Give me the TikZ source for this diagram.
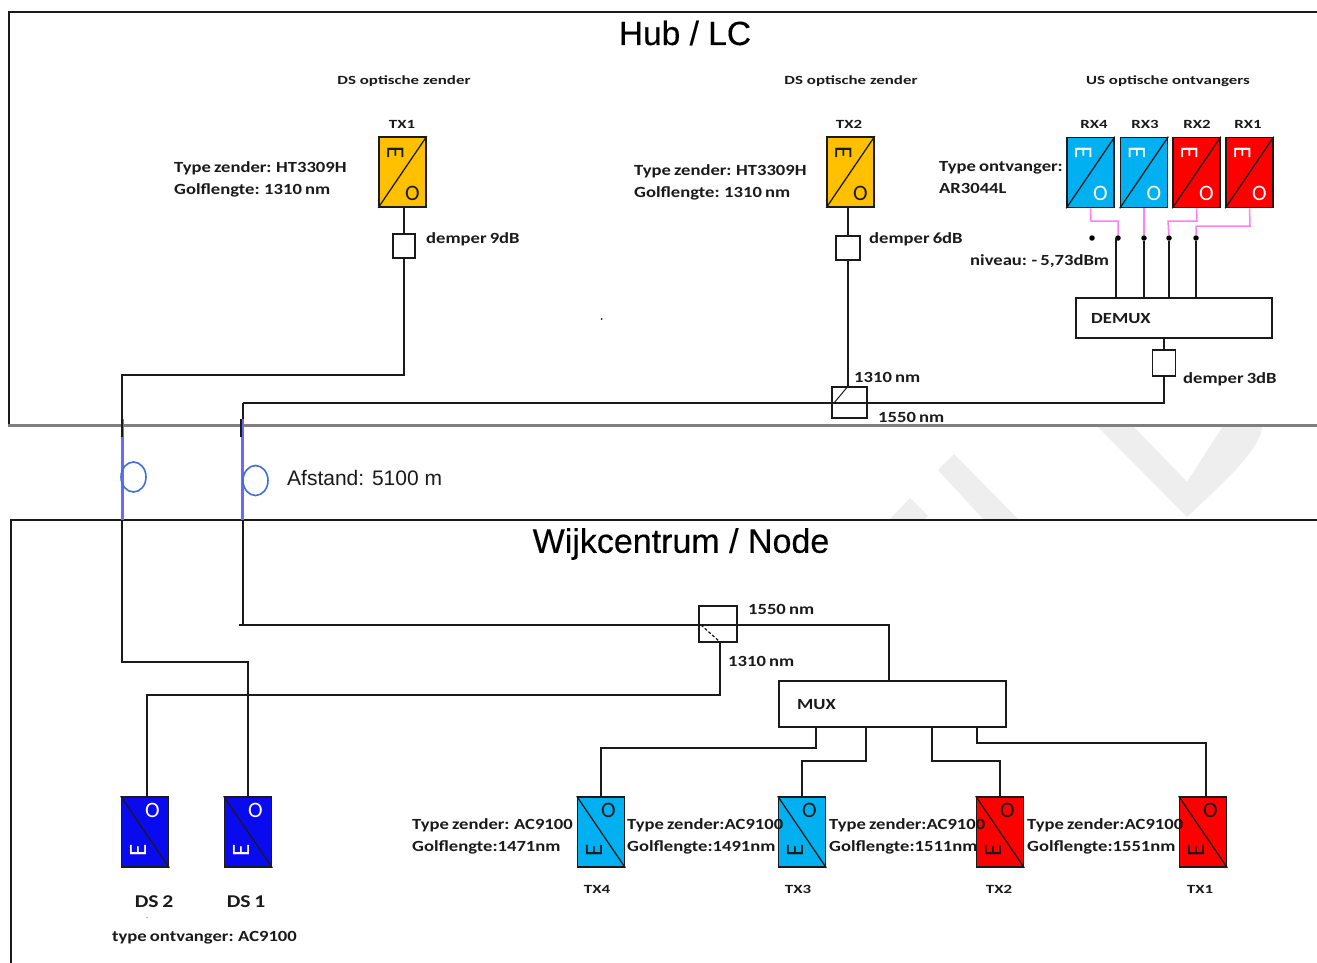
\documentclass[tikz,border=0pt]{standalone}
\usepackage{fontspec}
\setmainfont{Carlito}
\newfontfamily\lblfont[FakeStretch=1.2,WordSpace=0.75]{Carlito Bold}
\newfontfamily\capfont[FakeStretch=1.35]{Carlito Bold}
\newfontfamily\ttlfont{Liberation Sans}
\newfontfamily\ttlboldfont[FakeBold=0.35]{Liberation Sans}
\definecolor{amberc}{HTML}{FFC000}
\definecolor{skyc}{HTML}{00B0F0}
\definecolor{redc}{HTML}{FF0000}
\definecolor{navyc}{HTML}{0A0AEE}
\definecolor{pinkc}{HTML}{FF80F0}
\definecolor{fibre}{HTML}{6A6AF5}
\definecolor{loopc}{HTML}{3F6FD8}
\definecolor{wmark}{HTML}{EEEEEE}
\definecolor{inkc}{HTML}{1A1A1A}
\usetikzlibrary{shapes.geometric}
\tikzset{
  wire/.style={draw=inkc,line width=1.6pt},
  opto/.style={draw=inkc,line width=1.6pt,minimum width=47pt,minimum height=70pt,inner sep=0pt},
  plainbox/.style={draw=inkc,line width=1.6pt,fill=white,inner sep=0pt},
  glyphe/.style={inner sep=0pt,font=\fontsize{25}{25}\selectfont},
  glypho/.style={inner sep=0pt,font=\fontsize{22}{22}\selectfont},
  lbl/.style={inner sep=0pt,anchor=west,align=left,text=inkc,yshift=-1pt,font=\lblfont\fontsize{15.5}{22}\selectfont},
  smallcap/.style={inner sep=0pt,text=inkc,yshift=-0.7pt,font=\capfont\fontsize{12.5}{14}\selectfont},
  dsname/.style={inner sep=0pt,text=inkc,yshift=-1pt,font=\lblfont\fontsize{18}{20}\selectfont},
  titletext/.style={inner sep=0pt,text=black,font=\ttlboldfont\fontsize{33.5}{38}\selectfont},
  pinkwire/.style={draw=pinkc,line width=1.5pt},
  fibrel/.style={draw=fibre,line width=3pt},
  spool/.style={draw=loopc,line width=1.6pt,ellipse,inner sep=0pt,minimum width=25pt,minimum height=30pt},
  jdot/.style={circle,fill=black,inner sep=0pt,minimum size=5.5pt},
}
% name, cx, cy, fill, glyph colour
\newcommand{\eoup}[5]{%
  \node[opto,fill=#4] (#1) at (#2,#3) {};
  \draw[wire,line width=1.3pt] (#1.south west) -- (#1.north east);
  \node[glyphe,text=#5,rotate=-90] (#1e) at ([shift={(-7,-19.5)}]#1.center) {E};
  \node[glypho,text=#5] (#1o) at ([shift={(10,21)}]#1.center) {O};}
\newcommand{\eodown}[5]{%
  \node[opto,fill=#4] (#1) at (#2,#3) {};
  \draw[wire,line width=1.3pt] (#1.north west) -- (#1.south east);
  \node[glyphe,text=#5,rotate=90] (#1e) at ([shift={(-7,18)}]#1.center) {E};
  \node[glypho,text=#5] (#1o) at ([shift={(7.5,-22)}]#1.center) {O};}
\begin{document}
\begin{tikzpicture}[x=1pt,y=-1pt]
\path[use as bounding box,fill=white] (0,0) rectangle (1317,963);
% watermark
\fill[wmark] (1097,426) -- (1187,517) .. controls (1215,490) and (1262,450) .. (1262,426) -- (1223,426) -- (1187,482) -- (1133,426) -- cycle;
\fill[wmark] (938,470) -- (954,454) -- (1018,519) -- (983,519) -- cycle;
\fill[wmark] (890,519) -- (910,498) -- (928,516) -- (925,519) -- cycle;
% frames
\draw[draw=inkc,line width=1.5pt] (1317,12) -- (9,12) -- (9,425);
\draw[draw=gray,line width=3pt] (8,425) -- (1317,425);
\draw[draw=inkc,line width=1.5pt] (1317,520) -- (11,520) -- (11,963);
% titles
\node[titletext] (ttop) at (685,33) {Hub / LC};
\node[titletext,font=\ttlboldfont\fontsize{34}{38}\selectfont] (tbot) at (681,544) {Wijkcentrum / Node};
% optical units top
\eoup{txa}{402.5}{172}{amberc}{inkc}
\eoup{txb}{850.5}{172}{amberc}{inkc}
\eoup{rxd}{1090.5}{172.5}{skyc}{white}
\eoup{rxc}{1144}{172.5}{skyc}{white}
\eoup{rxb}{1196.5}{172.5}{redc}{white}
\eoup{rxa}{1249.5}{172.5}{redc}{white}
% optical units bottom
\eodown{dsb}{145}{832}{navyc}{white}
\eodown{dsa}{248}{832}{navyc}{white}
\eodown{txd}{601}{832}{skyc}{inkc}
\eodown{txc}{802}{832}{skyc}{inkc}
\eodown{txf}{1000}{832}{redc}{inkc}
\eodown{txe}{1203}{832}{redc}{inkc}
% dampers, couplers, mux
\node[plainbox,minimum width=22pt,minimum height=24pt] (dmpa) at (404,246) {};
\node[plainbox,minimum width=24pt,minimum height=24pt] (dmpb) at (848,248) {};
\node[plainbox,minimum width=23pt,minimum height=26pt] (dmpc) at (1164,363) {};
\node[plainbox,minimum width=196pt,minimum height=40pt] (demux) at (1174,318) {};
\node[plainbox,minimum width=227pt,minimum height=46pt] (mux) at (892.5,704) {};
\node[plainbox,fill=none,minimum width=35pt,minimum height=31pt] (cpa) at (849.5,402.5) {};
\node[plainbox,fill=none,minimum width=38pt,minimum height=36pt] (cpb) at (718,624) {};
% junction points
\node[jdot] (ja) at (1092,238) {};
\node[jdot] (jb) at (1118,238) {};
\node[jdot] (jc) at (1144,238) {};
\node[jdot] (jd) at (1169,238) {};
\node[jdot] (je) at (1196,238) {};
% named way points
\coordinate (fa) at (122,375);
\coordinate (fb) at (122,662);
\coordinate (ga) at (243,403);
\coordinate (gb) at (243,625);
\coordinate (gc) at (239,625);
\coordinate (ca) at (834,403);
\coordinate (cb) at (701,625);
\coordinate (cc) at (720,642);
\coordinate (cd) at (720,695);
\coordinate (ce) at (147,695);
\coordinate (ma) at (816,727);
\coordinate (mb) at (866,727);
\coordinate (mc) at (932,727);
\coordinate (md) at (977,727);
\coordinate (mbb) at (866,761);
\coordinate (mcb) at (932,761);
\coordinate (dma) at (1116,298);
\coordinate (dmb) at (1144,298);
\coordinate (dmc) at (1169,298);
\coordinate (dmd) at (1196,298);
% fibres
\draw[fibrel] (122,419) -- (122,520);
\draw[fibrel] (242,419) -- (242,520);
\draw[wire,line width=2.2pt] (122,419) -- (122,437);
\draw[wire,line width=2.2pt] (241,419) -- (241,437);
\node[spool] (spa) at (133.5,477) {};
\node[spool] (spb) at (255.5,480.5) {};
% connectors
\draw[wire] (dmpa.north |- txa.south) -- (dmpa.north);
\draw[wire] (dmpa.south) |- (fa) -- (122,437);
\draw[wire] (122,520) -- (fb) -| (dsa.north);
\draw[wire] (dmpb.north |- txb.south) -- (dmpb.north);
\draw[wire] (dmpb.south) -- (cpa.north -| dmpb.south);
\draw[wire,line width=1pt] (cpa.north -| dmpb.south) -- (ca);
\draw[wire] (ga) -- (243,419);
\draw[wire] (ga) -- (dmpc.south |- ga) -- (dmpc.south);
\draw[wire] (dmpc.north) -- (dmpc.north |- demux.south);
\draw[wire] (243,520) -- (gb);
\draw[wire] (gc) -- (889,625) -- (889,681);
\draw[wire,line width=1.2pt,densely dashed] (cb) -- (cc);
\draw[wire] (cc) -- (cd) -- (ce) -- (dsb.north -| ce);
\draw[wire] (ma) |- (txd.north |- 0,748) -- (txd.north);
\draw[wire] (mb) -- (mbb) -| (txc.north);
\draw[wire] (mc) -- (mcb) -| (txf.north);
\draw[wire] (md) |- (1206,743) -- (1206,797);
\draw[wire] (dma) -- (dma |- jb);
\draw[wire] (dmb) -- (jc);
\draw[wire] (dmc) -- (jd);
\draw[wire] (dmd) -- (je);
\draw[pinkwire] (rxd.south) -- (1091,221) -- (1118,221) -- (jb);
\draw[pinkwire] (rxc.south) -- (jc);
\draw[pinkwire] (rxb.south) -- (1197,221) -- (1168,221) -- (jd);
\draw[pinkwire] (rxa.south) -- (1250,226) -- (1196,226) -- (je);
% labels top
\node[smallcap] (l01) at (404,80) {DS optische zender};
\node[smallcap] (l02) at (851,80) {DS optische zender};
\node[smallcap] (l03) at (1168,80) {US optische ontvangers};
\node[smallcap] (l04) at (402,124) {TX1};
\node[smallcap] (l05) at (849,124) {TX2};
\node[smallcap] (l06) at (1094,124) {RX4};
\node[smallcap] (l07) at (1145,124) {RX3};
\node[smallcap] (l08) at (1197,124) {RX2};
\node[smallcap] (l09) at (1248,124) {RX1};
\node[lbl] (l10) at (174,178) {Type zender: HT3309H\\Golflengte: 1310 nm};
\node[lbl] (l11) at (634,181) {Type zender: HT3309H\\Golflengte: 1310 nm};
\node[lbl] (l12) at (939,176.5) {Type ontvanger:\\AR3044L};
\node[lbl] (l13) at (426,238) {demper 9dB};
\node[lbl] (l14) at (869,238) {demper 6dB};
\node[lbl] (l15) at (1183,378) {demper 3dB};
\node[lbl] (l16) at (970,260) {niveau: - 5,73dBm};
\node[lbl] (l17) at (1091,318) {DEMUX};
\node[lbl] (l18) at (854,376) {1310 nm};
\node[lbl] (l19) at (878,416) {1550 nm};
\node[inner sep=0pt,anchor=west,text=inkc,font=\ttlfont\fontsize{21}{24}\selectfont] (l20) at (287,478) {Afstand: 5100 m};
% labels bottom
\node[lbl] (l21) at (748,608) {1550 nm};
\node[lbl] (l22) at (728,660) {1310 nm};
\node[lbl] (l23) at (797,704) {MUX};
\node[lbl] (l24) at (412,835) {Type zender: AC9100\\Golflengte:1471nm};
\node[lbl] (l25) at (627,835) {Type zender:AC9100\\Golflengte:1491nm};
\node[lbl] (l26) at (829,835) {Type zender:AC9100\\Golflengte:1511nm};
\node[lbl] (l27) at (1027,835) {Type zender:AC9100\\Golflengte:1551nm};
\node[smallcap] (l28) at (597,889) {TX4};
\node[smallcap] (l29) at (798,889) {TX3};
\node[smallcap] (l30) at (999,889) {TX2};
\node[smallcap] (l31) at (1200,889) {TX1};
\node[dsname] (l32) at (154,901) {DS 2};
\node[dsname] (l33) at (246,901) {DS 1};
\node[lbl] (l34) at (112,937) {type ontvanger: AC9100};
% specks
\fill[inkc] (601.5,319) circle (1pt);
\fill[gray!60] (147,917.5) circle (0.9pt);
\end{tikzpicture}
\end{document}
